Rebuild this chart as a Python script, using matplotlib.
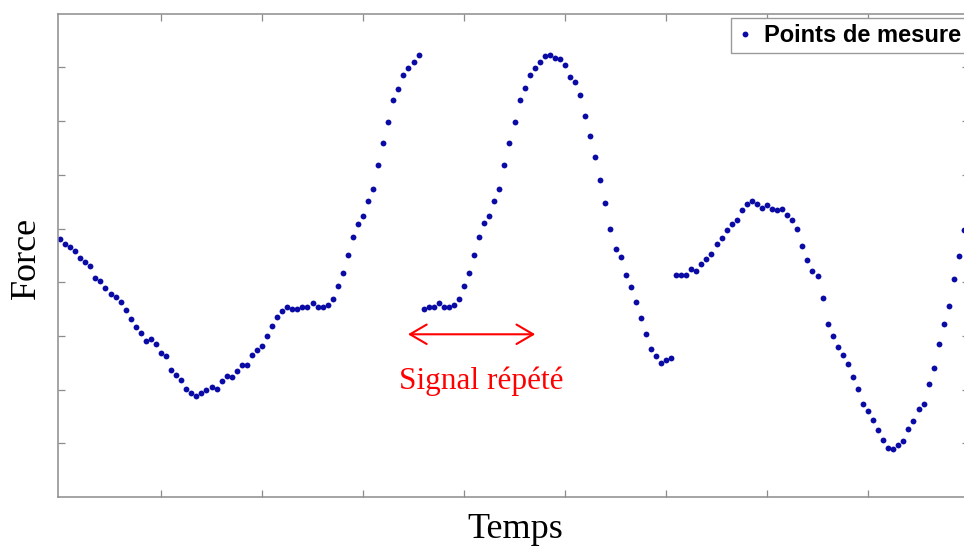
import numpy as np
import matplotlib
matplotlib.use("Agg")
import matplotlib.pyplot as plt
from matplotlib.patches import FancyArrowPatch

# ---- data ----
segment_1 = [4.80, 4.71, 4.66, 4.59, 4.45, 4.38, 4.30, 4.08, 4.02, 3.89,
             3.78, 3.73, 3.64, 3.49, 3.31, 3.16, 3.06, 2.91, 2.94, 2.84,
             2.69, 2.63, 2.36, 2.27, 2.18, 2.02, 1.94, 1.89, 1.93, 1.99,
             2.05, 2.02, 2.16, 2.26, 2.23, 2.34, 2.45, 2.45, 2.64, 2.74,
             2.81, 2.99, 3.19, 3.35, 3.46, 3.54, 3.51, 3.51, 3.53, 3.54,
             3.62, 3.53, 3.54, 3.58, 3.69, 3.92, 4.18, 4.51, 4.85, 5.08,
             5.23, 5.51, 5.74, 6.19, 6.59, 6.99, 7.39, 7.60, 7.85, 7.98,
             8.10, 8.23]
segment_2 = [3.51, 3.53, 3.54, 3.62, 3.54, 3.54, 3.57, 3.69, 3.92, 4.18,
             4.50, 4.85, 5.10, 5.23, 5.51, 5.74, 6.19, 6.59, 6.99, 7.39,
             7.61, 7.85, 7.98, 8.10, 8.22, 8.24, 8.18, 8.15, 8.04, 7.82,
             7.73, 7.49, 7.10, 6.72, 6.33, 5.90, 5.48, 5.00, 4.62, 4.46,
             4.13, 3.91, 3.64, 3.33, 3.04, 2.76, 2.63, 2.49, 2.56, 2.58]
segment_3 = [4.14, 4.13, 4.14, 4.24, 4.20, 4.34, 4.43, 4.52, 4.71, 4.82,
             4.97, 5.08, 5.15, 5.34, 5.46, 5.52, 5.45, 5.38, 5.43, 5.36,
             5.35, 5.36, 5.26, 5.15, 4.99, 4.67, 4.41, 4.21, 4.12, 3.71,
             3.23, 3.00, 2.79, 2.64, 2.47, 2.24, 2.01, 1.74, 1.61, 1.43,
             1.25, 1.06, 0.92, 0.89, 0.97, 1.05, 1.26, 1.42, 1.63, 1.73,
             2.10, 2.41, 2.84, 3.23, 3.56, 4.06, 4.49, 4.97]

force = np.array(segment_1 + segment_2 + segment_3)
temps = np.arange(len(force))

x_ticks = [20, 40, 60, 80, 100, 120, 140, 160]
y_ticks = [1, 2, 3, 4, 5, 6, 7, 8]

legend_label = "Points de mesure"
x_label = "Temps"
y_label = "Force"
annotation_text = "Signal répété"
arrow_start = (68.9, 3.03)
arrow_end = (94.1, 3.03)

# ---- figure ----
W, H = 964, 550
fig = plt.figure(figsize=(W / 100, H / 100), dpi=100)
left, right, bottom, top = 58 / W, 969 / W, (H - 497) / H, (H - 13.7) / H
ax = fig.add_axes([left, bottom, right - left, top - bottom])

dot_color = "#0a0aa4"
ax.plot(temps, force, linestyle="none", marker="o", markersize=4.2,
        markeredgewidth=0, color=dot_color, label=legend_label)

ax.set_xlim(-0.4, 180)
ax.set_ylim(0, 9)
ax.set_xticks(x_ticks)
ax.set_yticks(y_ticks)
ax.tick_params(direction="in", length=5, width=0.9, color="#8c8c8c",
               top=True, right=True, labelbottom=False, labelleft=False)
for s in ax.spines.values():
    s.set_color("#8c8c8c")
    s.set_linewidth(1.1)

# axis labels
fig.text(26 / W, 1 - 258 / H, y_label, rotation=90, ha="center", va="center",
         fontsize=26, family="Liberation Serif")
fig.text(515 / W, 1 - 529 / H, x_label, ha="center", va="center",
         fontsize=26, family="Liberation Serif")

# annotation
arrow = FancyArrowPatch(arrow_start, arrow_end,
                        arrowstyle="<->,head_length=1.2,head_width=0.7",
                        mutation_scale=10, color="#ff0000", linewidth=1.5,
                        shrinkA=0, shrinkB=0)
ax.add_patch(arrow)
fig.text(481 / W, 1 - 389 / H, annotation_text, ha="center", va="baseline",
         fontsize=22.5, color="#ff0000", family="Liberation Serif")

# legend
leg = ax.legend(loc="upper right", bbox_to_anchor=(1.003, 1 - 18 / H),
                bbox_transform=fig.transFigure, borderaxespad=0,
                frameon=True, fancybox=False, framealpha=1,
                prop={"family": "Liberation Sans", "weight": "bold", "size": 17},
                handlelength=0.7, handletextpad=0.45, borderpad=0.25,
                markerscale=1.0)
leg.get_frame().set_edgecolor("#9a9a9a")
leg.get_frame().set_linewidth(1.0)

fig.savefig("out.png", dpi=100)
